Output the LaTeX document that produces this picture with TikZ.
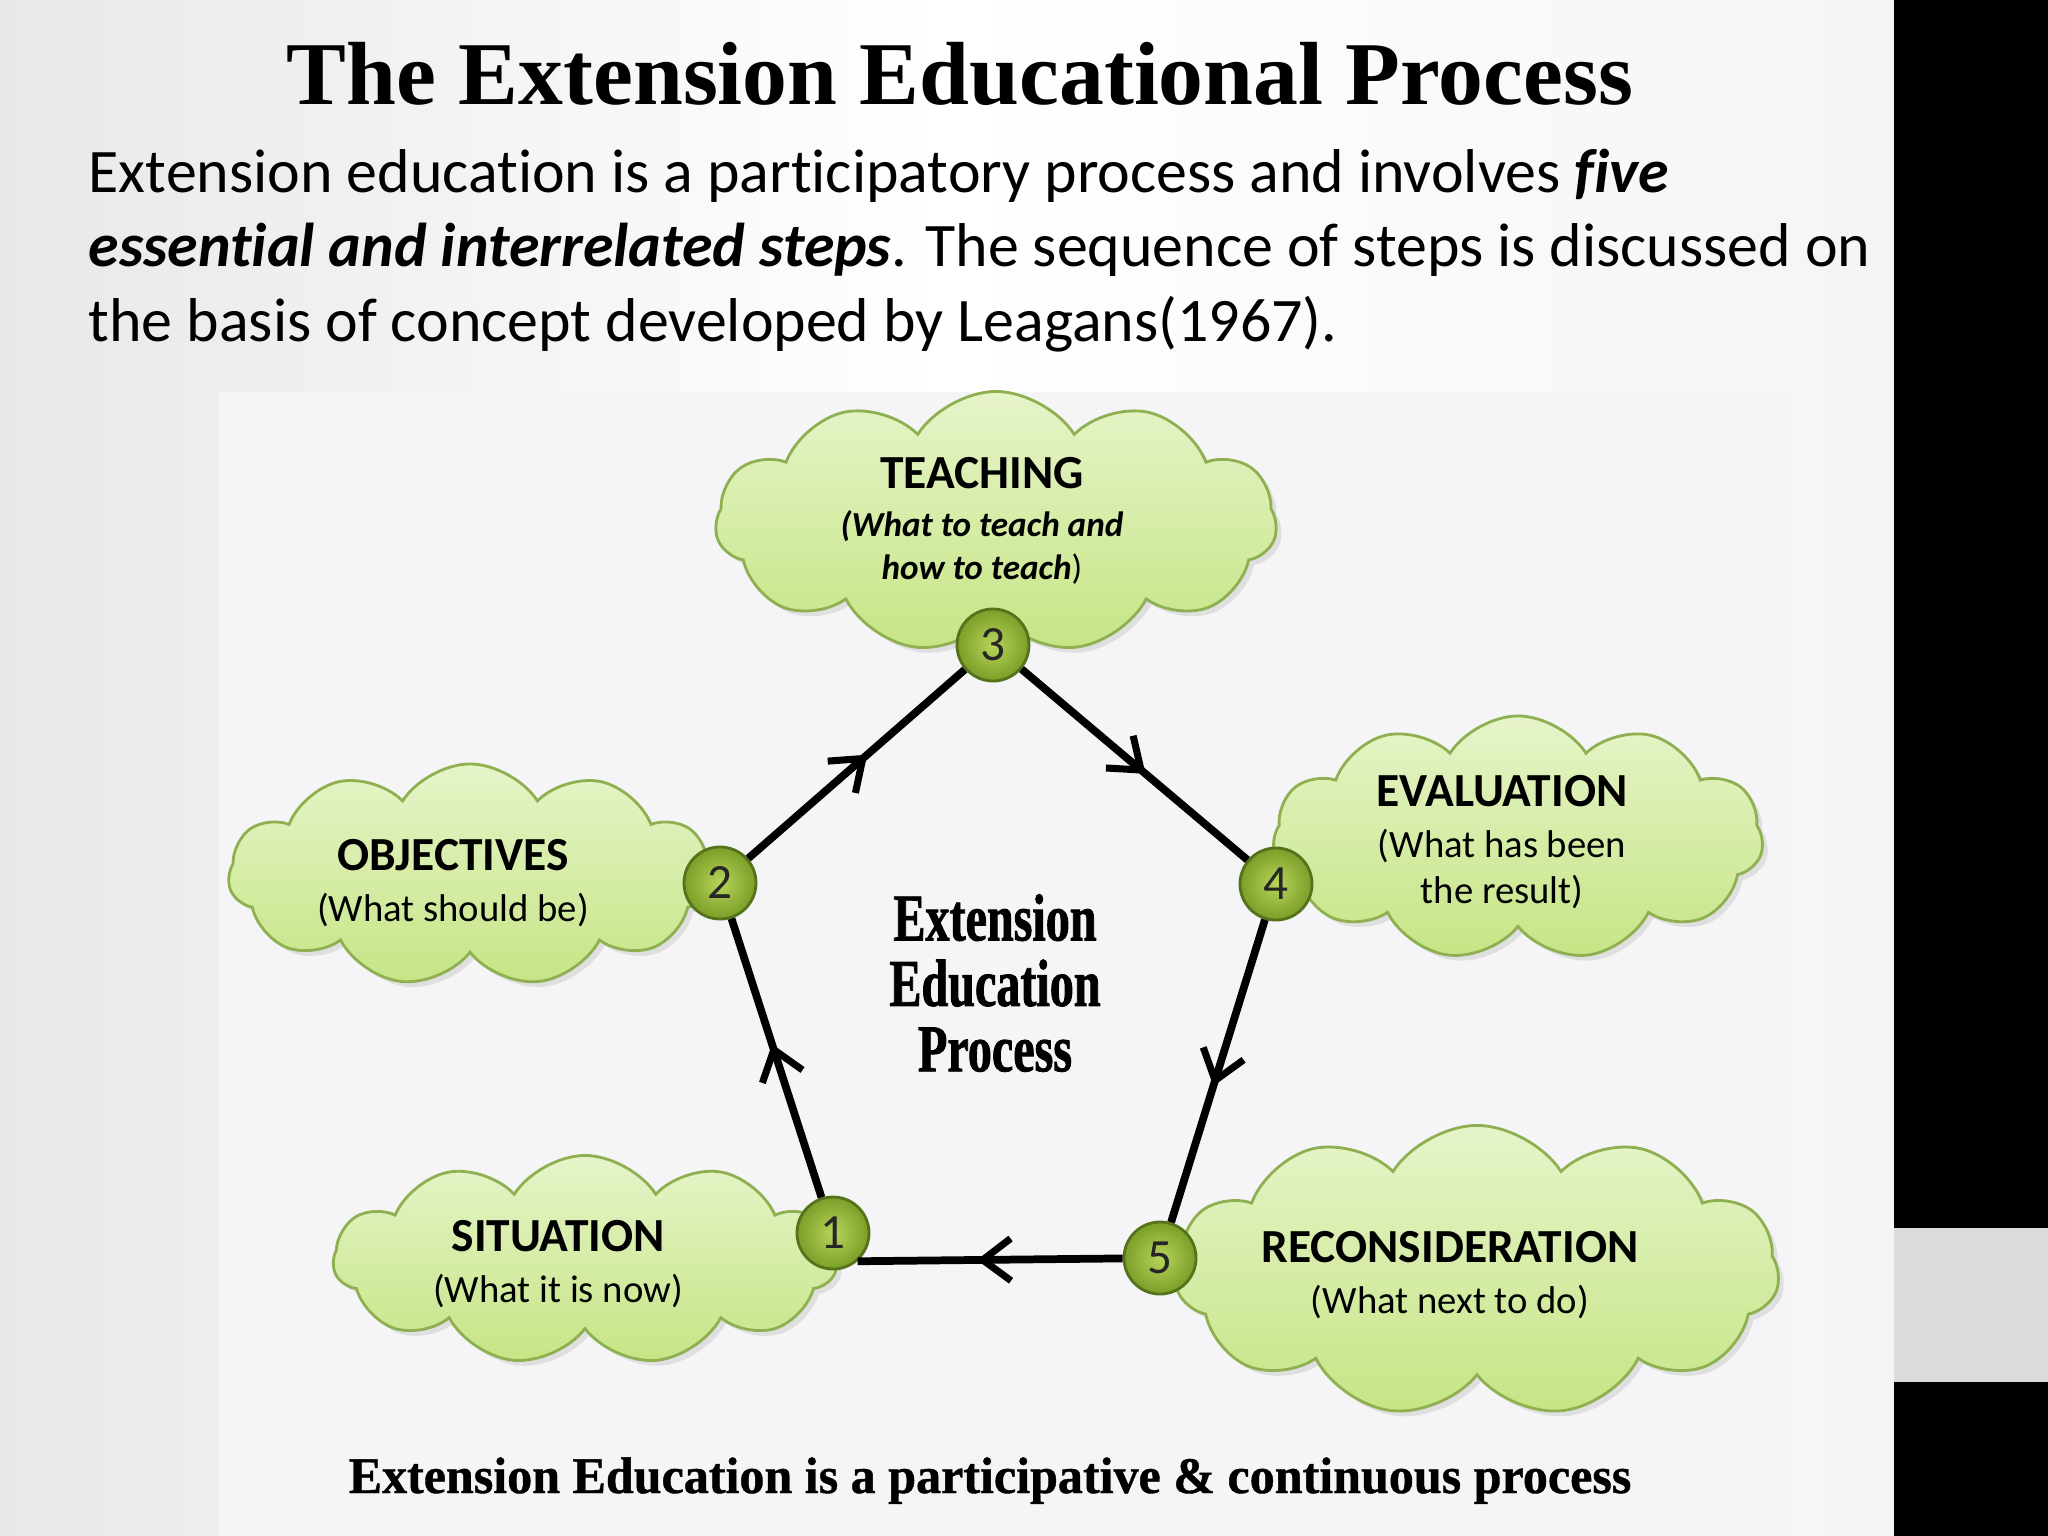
\documentclass[tikz,border=0pt]{standalone}
\usepackage{fontspec}
\setmainfont{Carlito}[Ligatures=NoCommon]
\newfontfamily\headfont{Liberation Serif}
\newfontfamily\hubfont[FakeStretch=0.72, FakeBold=1.2]{Liberation Serif}
\newfontfamily\notefont[FakeStretch=0.975, FakeBold=0.8]{Liberation Serif}
\usetikzlibrary{positioning}
\usetikzlibrary{shapes.symbols}
\usetikzlibrary{shadows}
\usetikzlibrary{arrows.meta}
\usetikzlibrary{decorations.markings}
\definecolor{cloudtop}{HTML}{E6F4C9}
\definecolor{cloudbot}{HTML}{C6E585}
\definecolor{cloudedge}{HTML}{8FB050}
\definecolor{stepin}{HTML}{B8D45A}
\definecolor{stepout}{HTML}{7A9E28}
\definecolor{stepedge}{HTML}{54731A}
\definecolor{panelgray}{HTML}{F5F4F6}
\definecolor{bandgray}{HTML}{DDDBDE}

\begin{document}
\begin{tikzpicture}[x=0.01cm, y=-0.01cm, node distance=6pt,
cloudnode/.style={cloud, cloud puffs=11, cloud puff arc=115, cloud ignores aspect, draw=cloudedge, line width=0.8pt, top color=cloudtop, bottom color=cloudbot, drop shadow={opacity=0.18, shadow xshift=1.5pt, shadow yshift=-1.5pt}},
stepnode/.style={circle, minimum size=7.2mm, inner sep=0pt, draw=stepedge, line width=0.8pt, inner color=stepin, outer color=stepout, font=\fontsize{14}{15}\selectfont, text=black!85},
headtext/.style={inner sep=0pt, font=\bfseries\fontsize{13.5}{15}\selectfont},
subtext/.style={inner sep=0pt, align=center, font=\fontsize{11}{13.2}\selectfont},
flowline/.style={line width=2.2pt, postaction={decorate}, decoration={markings, mark=at position 0.55 with {\arrow{Straight Barb[length=8pt, width=12pt, line width=2pt]}}}},
]
\useasboundingbox (0,0) rectangle (2048,1536);

%Backdrop
\shade[left color=black!9, right color=black!4, middle color=white] (0,0) rectangle (1894,1536);
\fill[panelgray] (218,392) rectangle (1789,1536);
\fill[black] (1894,0) rectangle (2048,1536);
\fill[bandgray] (1894,1228) rectangle (2048,1382);

%Heading and intro
\node[font=\headfont\bfseries\fontsize{25.5}{30}\selectfont, anchor=base] (title) at (960,104) {The Extension Educational Process};
\node[anchor=north west, align=left, inner sep=0pt, font=\fontsize{17.6}{21.2}\selectfont] (intro) at (88,148)
  {Extension education is a participatory process and involves \textbf{\textit{five}}\\
   \textbf{\textit{essential and interrelated steps}}. The sequence of steps is discussed on\\
   the basis of concept developed by Leagans(1967).};

%Clouds
\node[cloudnode, minimum width=5.61cm, minimum height=2.61cm] (teach) at (996,522) {};
\node[cloudnode, minimum width=4.83cm, minimum height=2.22cm] (object) at (470,875) {};
\node[cloudnode, minimum width=4.90cm, minimum height=2.44cm] (evalu) at (1518,838) {};
\node[cloudnode, minimum width=5.03cm, minimum height=2.09cm] (situ) at (585,1260) {};
\node[cloudnode, minimum width=6.04cm, minimum height=2.91cm] (recon) at (1477,1271) {};

%Cloud texts
\node[headtext, anchor=base] (teachhead) at (982,488) {TEACHING};
\node[subtext, below=of teachhead, font=\bfseries\itshape\fontsize{10}{12.2}\selectfont] (teachsub) {(What to teach and\\how to teach{\upshape\mdseries)}};
\node[headtext, anchor=base] (objecthead) at (453,870) {OBJECTIVES};
\node[subtext, below=of objecthead] (objectsub) {(What should be)};
\node[headtext, anchor=base] (evaluhead) at (1502,806) {EVALUATION};
\node[subtext, below=of evaluhead] (evalusub) {(What has been\\the result)};
\node[headtext, anchor=base] (situhead) at (558,1251) {SITUATION};
\node[subtext, below=of situhead] (situsub) {(What it is now)};
\node[headtext, anchor=base] (reconhead) at (1450,1262) {RECONSIDERATION};
\node[subtext, below=of reconhead] (reconsub) {(What next to do)};

%Centre
\node[font=\hubfont\bfseries\fontsize{19}{18.6}\selectfont, align=center, inner sep=0pt] (hub) at (995,983) {Extension\\Education\\Process};

%Steps
\node[stepnode] (s1) at (833,1233) {1};
\node[stepnode] (s2) at (720,883) {2};
\node[stepnode] (s3) at (993,645) {3};
\node[stepnode] (s4) at (1276,884) {4};
\node[stepnode] (s5) at (1160,1258) {5};

%Lines
\draw[flowline] (s1) -- (s2);
\draw[flowline] (s2) -- (s3);
\draw[flowline] (s3) -- (s4);
\draw[flowline] (s4) -- (s5);
\draw[flowline] (s5) -- (s1.-49);

%Caption
\node[font=\notefont\bfseries\fontsize{14.6}{17}\selectfont, anchor=base] (motto) at (990,1493) {Extension Education is a participative \& continuous process};
\end{tikzpicture}
\end{document}
